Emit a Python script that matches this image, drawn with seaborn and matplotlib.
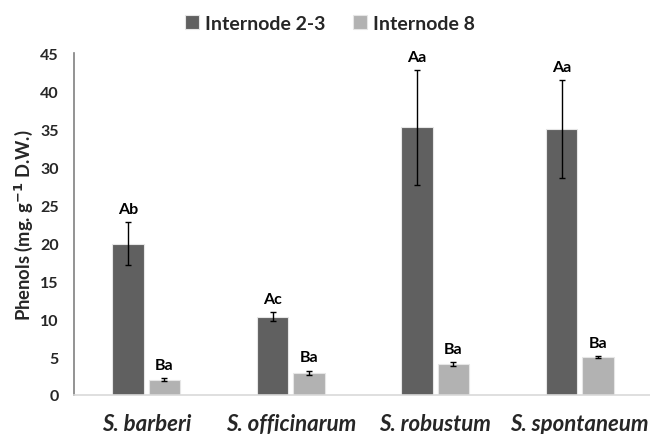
import matplotlib
matplotlib.use("Agg")
import matplotlib.pyplot as plt
import seaborn as sns
import pandas as pd

species = ["S. barberi", "S. officinarum", "S. robustum", "S. spontaneum"]
series = ["Internode 2-3", "Internode 8"]
values_23 = [19.9, 10.3, 35.2, 35.0]
values_8 = [2.0, 2.9, 4.1, 5.0]
err_23 = [2.8, 0.6, 7.6, 6.4]
err_8 = [0.2, 0.3, 0.25, 0.15]
letters_23 = ["Ab", "Ac", "Aa", "Aa"]
letters_8 = ["Ba", "Ba", "Ba", "Ba"]
yticks = list(range(0, 50, 5))

sns.set_style("white")
plt.rcParams['font.family'] = ['Lato', 'DejaVu Sans']

df = pd.DataFrame({
    "species": species * 2,
    "series": [series[0]] * 4 + [series[1]] * 4,
    "value": values_23 + values_8,
})

fig = plt.figure(figsize=(6.5, 4.35), dpi=100)
ax = fig.add_axes([74 / 650, 1 - 396 / 435, (652 - 74) / 650, (396 - 54) / 435])

sns.barplot(data=df, x="species", y="value", hue="series", order=species,
            hue_order=series, palette=["#606060", "#b2b2b2"], width=0.505,
            gap=0.13, errorbar=None, edgecolor="#e6e6e6", linewidth=0.8,
            ax=ax, legend=True)

for cont, vals, errs, labs in zip(ax.containers, [values_23, values_8],
                                  [err_23, err_8], [letters_23, letters_8]):
    xs = [p.get_x() + p.get_width() / 2 for p in cont.patches]
    ax.errorbar(xs, vals, yerr=errs, fmt='none', ecolor='black',
                elinewidth=1.0, capsize=2.5, capthick=1.0, zorder=5)
    for x, v, e, t in zip(xs, vals, errs, labs):
        ax.annotate(t, (x, v + e), xytext=(0, 9.5), textcoords='offset points',
                    ha='center', va='center', fontsize=11.5, fontweight='bold',
                    color='black')

ax.set_xlim(-0.5, 3.5)
ax.set_ylim(0, 45)
ax.set_yticks(yticks)
ax.set_yticklabels([str(t) for t in yticks], fontsize=11.5, fontweight='bold')
ax.set_xticks(range(len(species)))
ax.set_xticklabels(species, fontsize=16, fontweight='bold', style='italic')
ax.tick_params(axis='x', length=0, pad=13)
ax.tick_params(axis='y', length=5, width=1, color='#808080', direction='out', pad=6)
ax.set_xlabel("")
ax.set_ylabel("Phenols (mg. g$^{\\mathbf{-1}}$ D.W.)", fontsize=13.2, fontweight='bold', labelpad=4)

for s in ["top", "right"]:
    ax.spines[s].set_visible(False)
ax.spines["left"].set_color("#808080")
ax.spines["left"].set_linewidth(1.2)
ax.spines["bottom"].set_color("#d9d9d9")
ax.spines["bottom"].set_linewidth(1.2)

handles, labels = ax.get_legend_handles_labels()
ax.get_legend().remove()
fig.legend(handles, labels, loc='center', bbox_to_anchor=(330 / 650, 1 - 24 / 435),
           ncol=2, frameon=False, handlelength=0.75, handleheight=0.75,
           handletextpad=0.3, columnspacing=1.4,
           prop={'size': 14, 'weight': 'bold'})

fig.savefig("out.png", dpi=100)
